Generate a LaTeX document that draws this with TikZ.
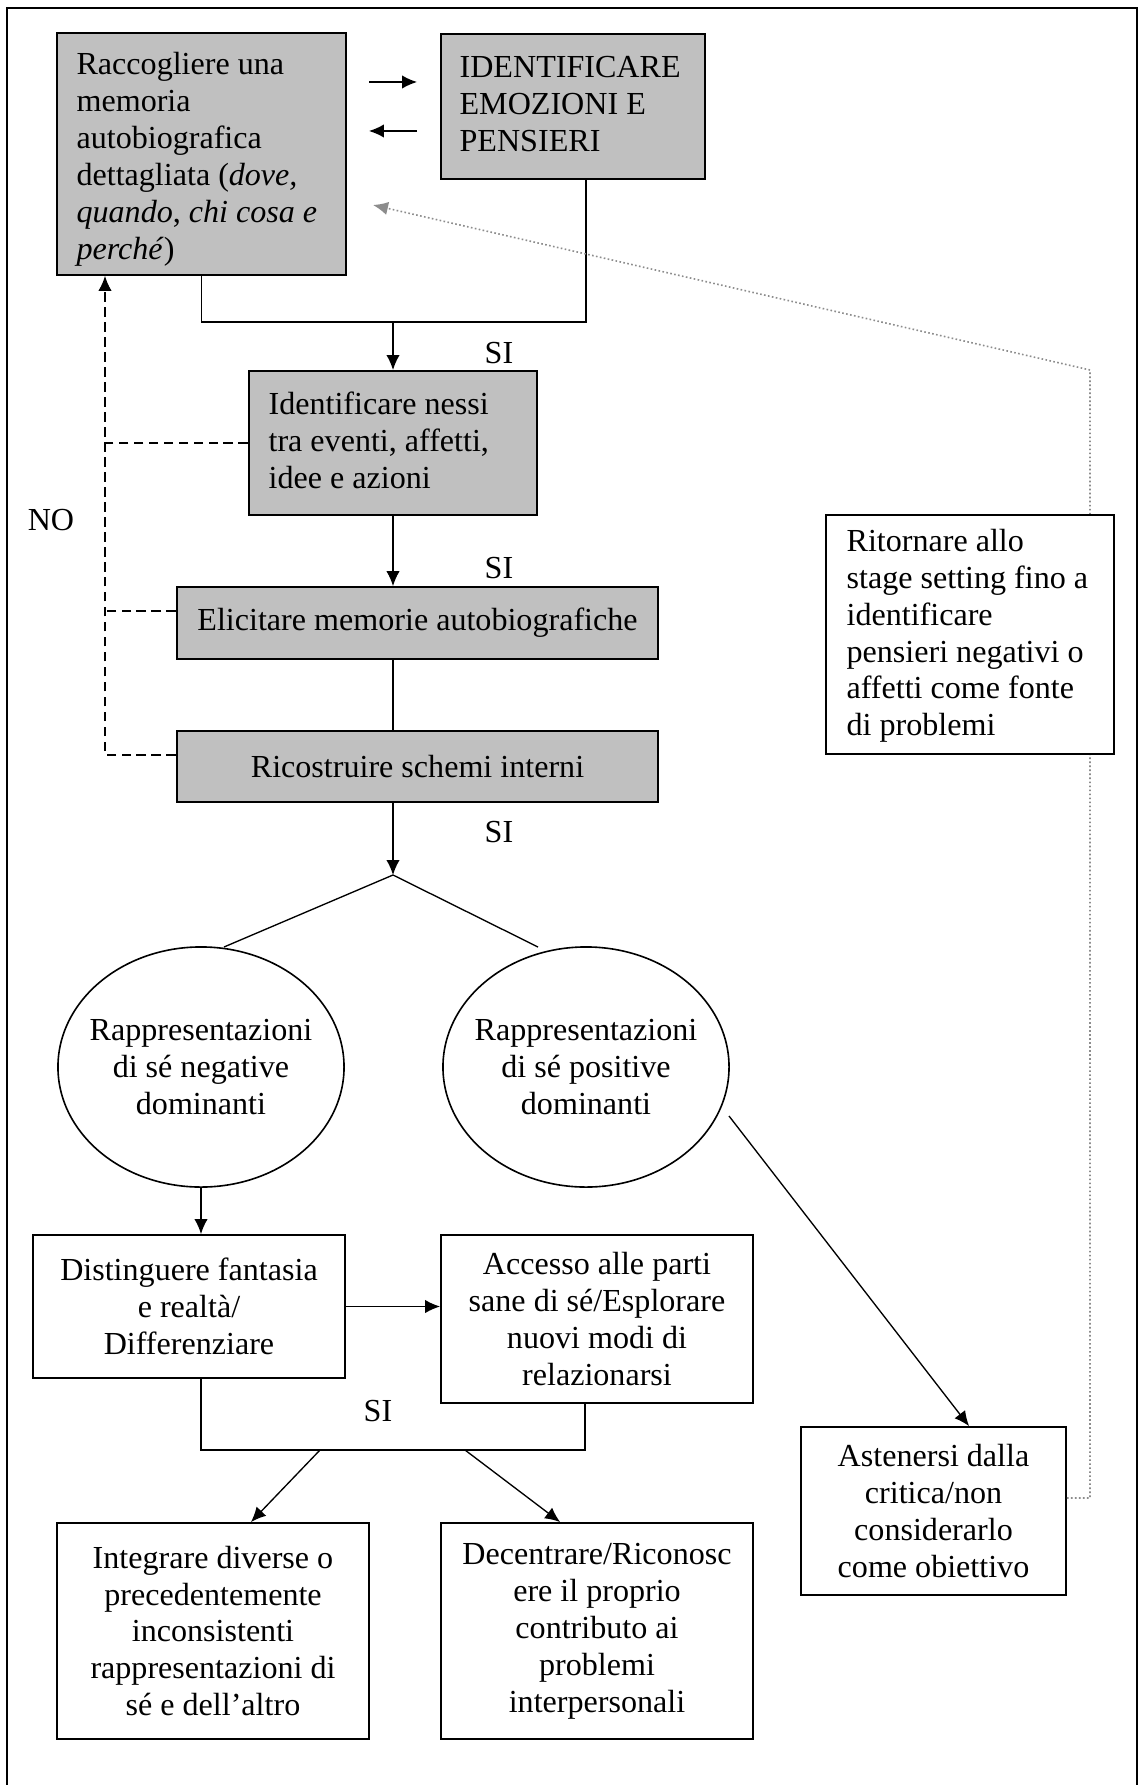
\documentclass[tikz,border=0pt]{standalone}
\usepackage{fontspec}
\setmainfont{Liberation Serif}
\usetikzlibrary{arrows.meta,shapes.geometric,calc}
\definecolor{boxgray}{RGB}{192,192,192}
\definecolor{dotgray}{RGB}{140,140,140}
\begin{document}
\begin{tikzpicture}[x=0.374pt, y=-0.374pt,
  txt/.style={font=\fontsize{12}{13.8}\selectfont},
  gbox/.style={txt, draw, line width=0.7pt, fill=boxgray},
  wbox/.style={txt, draw, line width=0.7pt, fill=white},
  cbox/.style={inner sep=0pt, align=center},
  ltxt/.style={txt, inner sep=0pt, align=left, anchor=west},
  lbl/.style={txt, inner sep=0pt},
  conn/.style={line width=0.5pt},
  arr/.style={conn, -{Latex[length=5.6pt,width=5pt]}},
  dsh/.style={conn, dash pattern=on 3.6pt off 2pt},
  dotg/.style={draw=dotgray, line width=0.6pt, dash pattern=on 0.6pt off 0.9pt,
     -{Latex[length=5.6pt,width=5pt,fill=dotgray]}},
  ell/.style={draw, line width=0.6pt, ellipse, inner sep=0pt, minimum width=107pt, minimum height=89.8pt}
]
\useasboundingbox (0,0) rectangle (1140,1785);
\fill[white] (0,0) rectangle (1140,1785);
\draw[line width=0.8pt] (7,1790) -- (7,8) -- (1137,8) -- (1137,1790);

% top boxes
\node[gbox, inner sep=0pt, minimum width=108.1pt, minimum height=90.5pt] (racc) at (201.5,154) {};
\node[ltxt] (racct) at ([xshift=7.48pt, yshift=-2pt]racc.west)
 {Raccogliere una\\memoria\\autobiografica\\dettagliata (\textit{dove,}\\\textit{quando}, \textit{chi cosa e}\\\textit{perché})};
\node[gbox, inner sep=0pt, minimum width=98.7pt, minimum height=54.2pt] (ident) at (573,106.5) {};
\node[ltxt] (identt) at ([xshift=7.1pt, yshift=1pt]ident.west)
 {IDENTIFICARE\\EMOZIONI E\\PENSIERI};
\coordinate (t1a) at (369,82); \coordinate (t1b) at (417,82);
\coordinate (t2a) at (417,131); \coordinate (t2b) at (369,131);
\draw[arr] (t1a) -- (t1b);
\draw[arr] (t2a) -- (t2b);

\node[gbox, inner sep=0pt, minimum width=107.7pt, minimum height=53.9pt] (nessi) at (393,443) {};
\node[ltxt] (nessit) at ([xshift=7.48pt, yshift=1pt]nessi.west)
 {Identificare nessi\\tra eventi, affetti,\\idee e azioni};
\node[gbox, cbox, minimum width=179.9pt, minimum height=26.9pt] (elicit) at (417.5,623)
 {Elicitare memorie autobiografiche};
\node[gbox, cbox, minimum width=179.9pt, minimum height=26.6pt] (ricos) at (417.5,766.5)
 {Ricostruire schemi interni};

\coordinate (jr) at (586,322);
\draw[conn] (racc.south) |- (jr) -- (jr |- ident.south);
\draw[arr] (nessi.north |- jr) -- (nessi.north);
\draw[arr] (nessi.south) -- (nessi.south |- elicit.north);
\draw[conn] (nessi.south |- elicit.south) -- (nessi.south |- ricos.north);
\coordinate (apex) at (393,875);
\draw[arr] (nessi.south |- ricos.south) -- (apex);
\coordinate (al) at (224,947); \coordinate (ar) at (538,947);
\draw[conn] (al) -- (apex) -- (ar);

\node[lbl] (si1) at (499,353) {SI};
\node[lbl] (si2) at (499,568) {SI};
\node[lbl] (si3) at (499,832) {SI};
\node[lbl] (no) at (51,520) {NO};

% dashed feedback
\coordinate (dl) at (105,755);
\coordinate (de) at (105,611);
\draw[dsh] (nessi.west) -- (nessi.west -| dl);
\draw[dsh] (elicit.west |- de) -- (de);
\draw[arr, dash pattern=on 3.6pt off 2pt] (ricos.west |- dl) -- (dl) -- (racc.south -| dl);

% ellipses
\node[ell] (negel) at (201,1067) {};
\node[txt, cbox] (negelt) at (negel.center) {Rappresentazioni\\di sé negative\\dominanti};
\node[ell] (posel) at (586,1067) {};
\node[txt, cbox] (poselt) at (posel.center) {Rappresentazioni\\di sé positive\\dominanti};

% lower boxes
\node[wbox, cbox, minimum width=116.7pt, minimum height=53.5pt] (disting) at (189,1306.5)
 {Distinguere fantasia\\e realtà/\\Differenziare};
\node[wbox, cbox, minimum width=116.7pt, minimum height=62.8pt] (accesso) at (597,1319)
 {Accesso alle parti\\sane di sé/Esplorare\\nuovi modi di\\relazionarsi};
\node[wbox, cbox, minimum width=116.7pt, minimum height=80.8pt] (integr) at (213,1631)
 {Integrare diverse o\\precedentemente\\inconsistenti\\rappresentazioni di\\sé e dell’altro};
\node[wbox, cbox, minimum width=116.7pt, minimum height=80.8pt] (decent) at (597,1631)
 {Decentrare/Riconosc\\ere il proprio\\contributo ai\\problemi\\interpersonali};
\node[wbox, cbox, minimum width=99.1pt, minimum height=62.8pt] (asten) at (933.5,1511)
 {Astenersi dalla\\critica/non\\considerarlo\\come obiettivo};

\draw[arr] (negel.south) -- (negel.south |- disting.north);
\draw[arr] (disting.east) -- (disting.east -| accesso.west);
\coordinate (jb) at (585,1450);
\draw[conn] (negel.south |- disting.south) |- (jb) -- (jb |- accesso.south);
\node[lbl] (si4) at (378,1411) {SI};
\coordinate (b1) at (320,1450); \coordinate (b2) at (465,1450);
\draw[arr] (b1) -- ([xshift=14.2pt]integr.north);
\draw[arr] (b2) -- ([xshift=-13.8pt]decent.north);
\coordinate (p1) at (729,1116);
\draw[arr] (p1) -- ([xshift=13.3pt]asten.north);

% gray dotted return
\coordinate (g1) at (1090,1498); \coordinate (g2) at (1090,370); \coordinate (gt) at (373,205);
\draw[dotg] (asten.east |- g1) -- (g1) -- (g2) -- (gt);

\node[wbox, inner sep=0pt, minimum width=107.7pt, minimum height=89.4pt] (ritorn) at (970,634.5) {};
\node[ltxt] (ritornt) at ([xshift=7.85pt, yshift=-0.5pt]ritorn.west)
 {Ritornare allo\\stage setting fino a\\identificare\\pensieri negativi o\\affetti come fonte\\di problemi};
\end{tikzpicture}
\end{document}
